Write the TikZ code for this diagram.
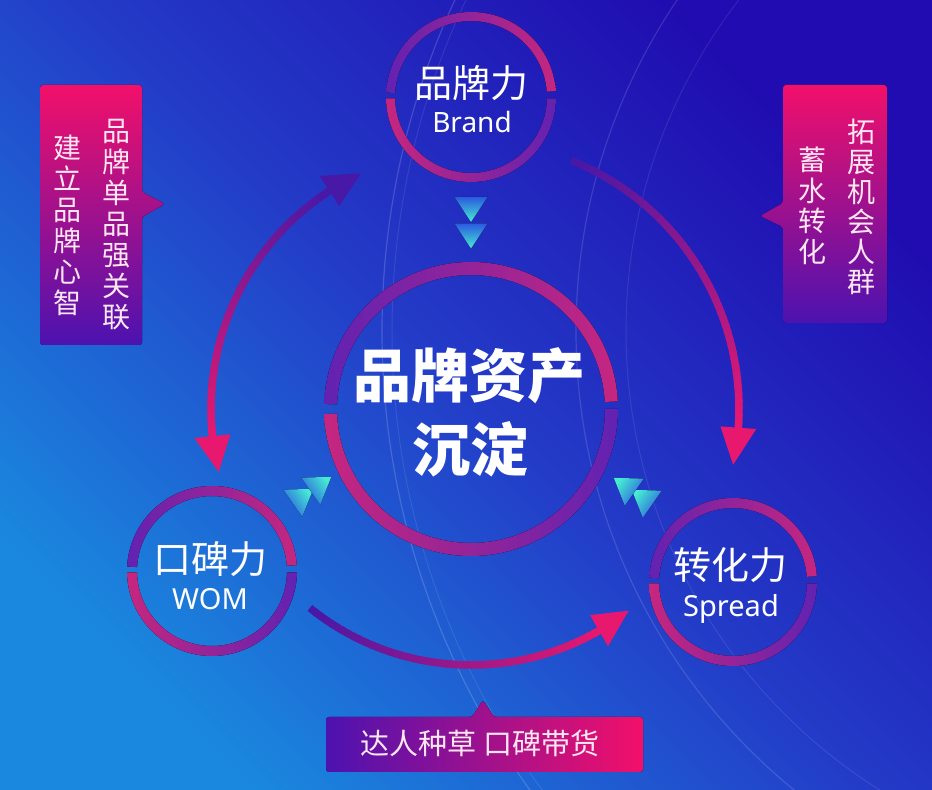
\documentclass[tikz,border=0pt]{standalone}
\usepackage{fontspec}
\usetikzlibrary{calc}
\newfontfamily\cjk{Noto Sans CJK SC}
\newfontfamily\latinf{Noto Sans}
\definecolor{bgBL}{HTML}{1A88DE}
\definecolor{bgMid}{HTML}{233CC8}
\definecolor{bgTR}{HTML}{200CB0}
\definecolor{ringpink}{HTML}{C6267F}
\definecolor{ringpurple}{HTML}{6222B2}
\definecolor{arrpink}{HTML}{E8186E}
\definecolor{arrpurple}{HTML}{4818A6}
\definecolor{boxpink}{HTML}{F2106A}
\definecolor{boxpurple}{HTML}{4C12B0}
\definecolor{txtc}{HTML}{FFE6F3}
\definecolor{cyanA}{HTML}{46EBD2}
\definecolor{cyanB}{HTML}{2A5AE0}

% annulus sector: center, r_in, r_out, a1, a2, fill options
\newcommand\ringarc[6]{%
  \fill[#6] ($(#1)+(#4:#3)$) arc[start angle=#4, end angle=#5, radius=#3]
    -- ($(#1)+(#5:#2)$) arc[start angle=#5, end angle=#4, radius=#2] -- cycle;}
% gradient arc: center, radius, a1, a2, colour1, colour2, width
\newcommand\gradarc[7]{%
  \foreach \k in {0,...,47}{%
    \pgfmathsetmacro\angA{#3+(#4-#3)*\k/48}%
    \pgfmathsetmacro\angB{#3+(#4-#3)*(\k+1.4)/48}%
    \pgfmathtruncatemacro\pc{100*\k/47}%
    \draw[line width=#7, draw=#6!\pc!#5] ($(#1)+(\angA:#2)$) arc[start angle=\angA, end angle=\angB, radius=#2];
  }}
% arrow head along arc: center, radius, base angle, tip angle, half width, colour
\newcommand\arrhead[6]{%
  \pgfmathsetmacro\rOut{#2+#5}%
  \pgfmathsetmacro\rIn{#2-#5}%
  \fill[#6] ($(#1)+(#3:\rOut)$) -- ($(#1)+(#4:#2)$) -- ($(#1)+(#3:\rIn)$) -- cycle;}
% cyan chevron: point, direction angle
\newcommand\chev[2]{%
  \pgfmathsetmacro\shA{#2+90}%
  \fill[top color=cyanB, bottom color=cyanA, shading angle=\shA]
    ($(#1)+(#2:12.5)$) -- ($(#1)+(#2+180:12.5)+(#2+90:16.5)$) -- ($(#1)+(#2+180:12.5)+(#2-90:16.5)$) -- cycle;}

\tikzset{
  cjktxt/.style={text=white, inner sep=0pt},
  vcol/.style={text=txtc, align=center, inner sep=0pt},
  ringnode/.style={circle, inner sep=0pt}
}

\begin{document}
\begin{tikzpicture}[x=1pt, y=1pt]
\useasboundingbox (0,0) rectangle (932,790);
% background
\fill[top color=bgTR, bottom color=bgBL, middle color=bgMid, shading angle=-45] (0,0) rectangle (932,790);
\begin{scope}
  \clip (0,0) rectangle (932,790);
  \draw[white, opacity=0.16, line width=1.2pt] (1168,459) circle[radius=786];
  \draw[white, opacity=0.09, line width=1pt] (1168,459) circle[radius=776];
  \draw[white, opacity=0.13, line width=1.2pt] (1168,459) circle[radius=592];
  \draw[white, opacity=0.09, line width=1pt] (1168,459) circle[radius=542];
\end{scope}

% circle nodes
\node[ringnode, minimum size=294pt] (asset) at (471,381) {};
\node[ringnode, minimum size=170pt] (brand) at (471,693) {};
\node[ringnode, minimum size=170pt] (wom) at (212,219) {};
\node[ringnode, minimum size=168pt] (spread) at (733,208) {};

% rings
\ringarc{asset.center}{134}{147}{3}{178}{left color=ringpurple, right color=ringpink}
\ringarc{asset.center}{134}{147}{182}{360}{left color=ringpink, right color=ringpurple}
\ringarc{brand.center}{76}{85}{4}{177}{left color=ringpurple, right color=ringpink}
\ringarc{brand.center}{76}{85}{181}{359}{left color=ringpink, right color=ringpurple}
\ringarc{wom.center}{75}{85}{4}{177}{left color=ringpurple, right color=ringpink}
\ringarc{wom.center}{75}{85}{181}{359}{left color=ringpink, right color=ringpurple}
\ringarc{spread.center}{74}{84}{4}{177}{left color=ringpurple, right color=ringpink}
\ringarc{spread.center}{74}{84}{181}{359}{left color=ringpink, right color=ringpurple}

% big arrows
\gradarc{asset.center}{268}{68}{-4}{arrpurple}{arrpink}{7.5pt}
\arrhead{asset.center}{268}{-4}{-12}{18}{arrpink}
\gradarc{asset.center}{260}{123}{186}{arrpurple}{arrpink}{7.5pt}
\arrhead{asset.center}{260}{123}{115}{18}{arrpurple}
\arrhead{asset.center}{260}{186}{194}{18}{arrpink}
\gradarc{asset.center}{256}{231}{300}{arrpurple}{arrpink}{7.5pt}
\arrhead{asset.center}{256}{300}{308}{18}{arrpink}

% cyan chevrons
\chev{471,580.5}{-90}
\chev{471,554}{-90}
\chev{303,294}{35}
\chev{321,306}{35}
\chev{642,293}{145}
\chev{624,305}{145}

% texts in circles
\node[cjktxt, font=\cjk\bfseries\fontsize{58}{64}\selectfont] (assetA) at (469,414.5) {品牌资产};
\node[cjktxt, font=\cjk\bfseries\fontsize{58}{64}\selectfont] (assetB) at (470,341) {沉淀};
\node[cjktxt, font=\cjk\fontsize{38}{44}\selectfont] (brandcn) at (471,707) {品牌力};
\node[cjktxt, font=\latinf\fontsize{28}{32}\selectfont, anchor=base] (branden) at (472,657) {Brand};
\node[cjktxt, font=\cjk\fontsize{38}{44}\selectfont] (womcn) at (210,231) {口碑力};
\node[cjktxt, font=\latinf\fontsize{29}{32}\selectfont, anchor=base] (women) at (210,180) {WOM};
\node[cjktxt, font=\cjk\fontsize{38}{44}\selectfont] (spreadcn) at (730,225) {转化力};
\node[cjktxt, font=\latinf\fontsize{29}{32}\selectfont, anchor=base] (spreaden) at (731,173) {Spread};

% left callout
\fill[rounded corners=3pt, top color=boxpink, bottom color=boxpurple]
  (40,705) -- (142,705) -- (142,598) -- (165,586) -- (142,573) -- (142,445) -- (40,445) -- cycle;
\node[vcol, font=\cjk\fontsize{28}{31.1}\selectfont] (lcolA) at (116,565.5) {品\\牌\\单\\品\\强\\关\\联};
\node[vcol, font=\cjk\fontsize{28}{31}\selectfont] (lcolB) at (67.5,565) {建\\立\\品\\牌\\心\\智};

% right callout
\fill[rounded corners=3pt, top color=boxpink, bottom color=boxpurple]
  (783,705) -- (887,705) -- (887,467) -- (783,467) -- (783,563) -- (760,574) -- (783,587) -- cycle;
\node[vcol, font=\cjk\fontsize{28}{30}\selectfont] (rcolA) at (861,583) {拓\\展\\机\\会\\人\\群};
\node[vcol, font=\cjk\fontsize{28}{30.5}\selectfont] (rcolB) at (812,584) {蓄\\水\\转\\化};

% bottom callout
\fill[rounded corners=3pt, left color=boxpurple, right color=boxpink]
  (326,73) -- (472,73) -- (483,90) -- (494,73) -- (643,73) -- (643,18) -- (326,18) -- cycle;
\node[text=txtc, inner sep=0pt, font=\cjk\fontsize{29}{32}\selectfont] (bottxt) at (480,47) {达人种草 口碑带货};
\end{tikzpicture}
\end{document}
